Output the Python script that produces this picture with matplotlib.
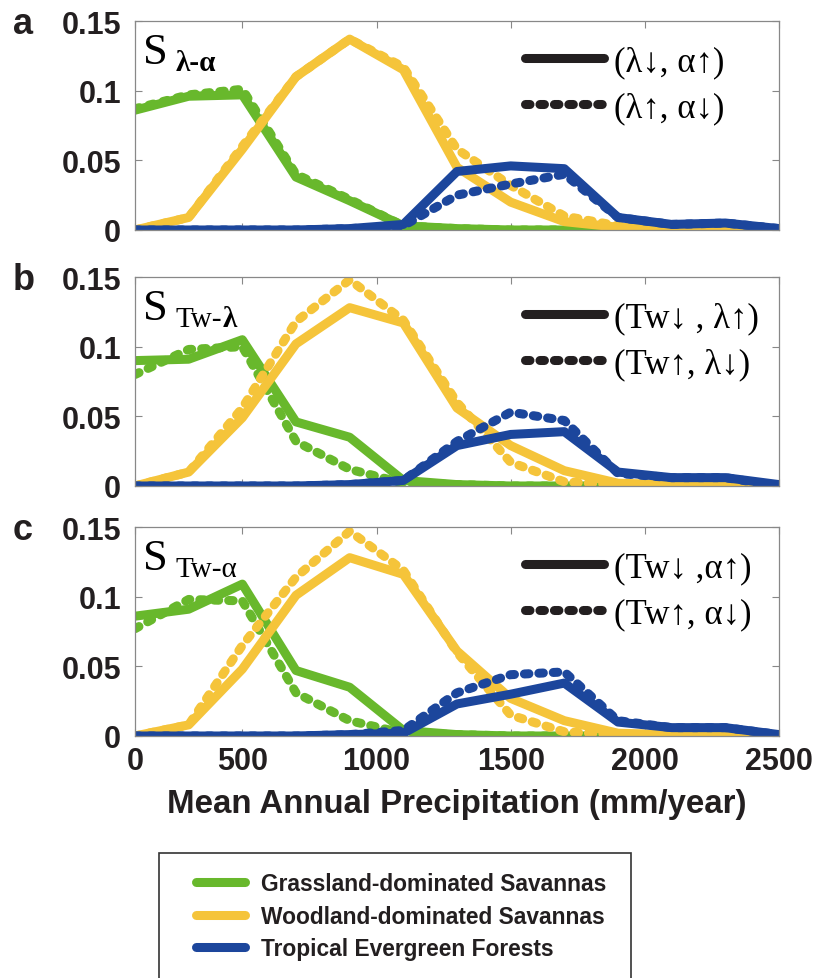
import matplotlib
matplotlib.use('Agg')
import matplotlib.pyplot as plt
from matplotlib.lines import Line2D
from matplotlib.patches import Rectangle

# precipitation bins (mm/year)
precip = [100, 300, 500, 700, 900, 1100, 1300, 1500, 1700, 1900, 2100, 2300, 2500]

# panel a : S lambda-alpha
grass_solid_a  = [0.086, 0.096, 0.097, 0.038, 0.021, 0.003, 0.001, 0, 0, 0, 0, 0, 0]
grass_dash_a   = [0.087, 0.097, 0.101, 0.040, 0.022, 0.003, 0.001, 0, 0, 0, 0, 0, 0]
wood_solid_a   = [0.0, 0.009, 0.058, 0.110, 0.137, 0.115, 0.045, 0.020, 0.006, 0.002, 0.001, 0.001, 0.0]
wood_dash_a    = [0.0, 0.009, 0.060, 0.110, 0.137, 0.117, 0.058, 0.032, 0.010, 0.003, 0.002, 0.001, 0.0]
forest_solid_a = [0, 0, 0, 0, 0.001, 0.004, 0.042, 0.046, 0.044, 0.009, 0.004, 0.005, 0.001]
forest_dash_a  = [0, 0, 0, 0, 0.001, 0.003, 0.025, 0.033, 0.040, 0.009, 0.004, 0.005, 0.001]

# panel b : S Tw-lambda
grass_solid_b  = [0.090, 0.091, 0.105, 0.046, 0.035, 0.004, 0.001, 0, 0, 0, 0, 0, 0]
grass_dash_b   = [0.080, 0.098, 0.100, 0.032, 0.012, 0.002, 0.001, 0, 0, 0, 0, 0, 0]
wood_solid_b   = [0.0, 0.010, 0.049, 0.102, 0.128, 0.117, 0.056, 0.029, 0.011, 0.002, 0.001, 0.001, 0.0]
wood_dash_b    = [0.0, 0.010, 0.056, 0.118, 0.148, 0.119, 0.060, 0.017, 0.003, 0.001, 0.001, 0.001, 0.0]
forest_solid_b = [0, 0, 0, 0, 0.001, 0.004, 0.029, 0.037, 0.039, 0.010, 0.006, 0.006, 0.001]
forest_dash_b  = [0, 0, 0, 0, 0.001, 0.004, 0.032, 0.053, 0.047, 0.009, 0.006, 0.006, 0.0]

# panel c : S Tw-alpha
grass_solid_c  = [0.086, 0.091, 0.109, 0.047, 0.035, 0.004, 0.001, 0, 0, 0, 0, 0, 0]
grass_dash_c   = [0.077, 0.098, 0.097, 0.031, 0.011, 0.002, 0.001, 0, 0, 0, 0, 0, 0]
wood_solid_c   = [0.0, 0.008, 0.048, 0.101, 0.128, 0.116, 0.061, 0.027, 0.011, 0.002, 0.001, 0.001, 0.0]
wood_dash_c    = [0.0, 0.008, 0.065, 0.114, 0.147, 0.119, 0.060, 0.015, 0.003, 0.001, 0.001, 0.001, 0.0]
forest_solid_c = [0, 0, 0, 0, 0.001, 0.002, 0.023, 0.030, 0.038, 0.010, 0.006, 0.006, 0.001]
forest_dash_c  = [0, 0, 0, 0, 0.001, 0.004, 0.031, 0.044, 0.046, 0.011, 0.006, 0.006, 0.001]

panel_letters = ['a', 'b', 'c']
# subscript pieces (text, weight)
subscripts = [[('λ-α', 'bold')],
              [('Tw-', 'normal'), ('λ', 'bold')],
              [('Tw-α', 'normal')]]
solid_labels = ['(λ↓, α↑)', '(Tw↓ , λ↑)', '(Tw↓ ,α↑)']
dash_labels  = ['(λ↑, α↓)', '(Tw↑, λ↓)', '(Tw↑, α↓)']
series_names = ['Grassland-dominated Savannas',
                'Woodland-dominated Savannas',
                'Tropical Evergreen Forests']

xticks = [100, 500, 1000, 1500, 2000, 2500]
xtick_labels = ['0', '500', '1000', '1500', '2000', '2500']
yticks = [0, 0.05, 0.1, 0.15]
ytick_labels = ['0', '0.05', '0.1', '0.15']

colors = ['#68b82c', '#f5c43a', '#1c469c']
ink = '#231f20'
serif = ['Liberation Serif', 'DejaVu Serif']
sans = ['Liberation Sans', 'DejaVu Sans']

data = [
    [(grass_solid_a, grass_dash_a), (wood_solid_a, wood_dash_a), (forest_solid_a, forest_dash_a)],
    [(grass_solid_b, grass_dash_b), (wood_solid_b, wood_dash_b), (forest_solid_b, forest_dash_b)],
    [(grass_solid_c, grass_dash_c), (wood_solid_c, wood_dash_c), (forest_solid_c, forest_dash_c)],
]

lw = 6.5
dashstyle = (0, (0.5, 1.1))  # round caps turn these into beads

fig = plt.figure(figsize=(8.16, 9.79), dpi=100)
fig.patch.set_facecolor('white')

W, H = 816., 979.
left, right = 135, 779
tops = [22, 278, 528]
height = 209

axes = []
for i in range(3):
    ax = fig.add_axes([left / W, 1 - (tops[i] + height) / H, (right - left) / W, height / H])
    axes.append(ax)

    for (solid, dashed), c in zip(data[i], colors):
        ax.plot(precip, solid, color=c, lw=lw, solid_capstyle='round', solid_joinstyle='round')
        ax.plot(precip, dashed, color=c, lw=lw, linestyle=dashstyle,
                dash_capstyle='round', dash_joinstyle='round')

    ax.set_xlim(100, 2500)
    ax.set_ylim(0, 0.15)
    ax.set_xticks(xticks)
    ax.set_yticks(yticks)
    ax.set_yticklabels(ytick_labels, fontsize=22, fontweight='bold', family=sans, color=ink)
    if i == 2:
        ax.set_xticklabels(xtick_labels, fontsize=22, fontweight='bold', family=sans, color=ink)
        ax.set_xlabel('Mean Annual Precipitation (mm/year)', fontsize=23.8, fontweight='bold',
                      family=sans, color=ink, labelpad=9)
    else:
        ax.set_xticklabels([])
    ax.tick_params(direction='in', top=True, right=True, length=5, width=0.8,
                   color='#888888', pad=10)
    ax.tick_params(axis='x', pad=7)
    for s in ax.spines.values():
        s.set_color('#888888')
        s.set_linewidth(0.9)

    # panel letter
    ax.text(-0.19, 0.943, panel_letters[i], transform=ax.transAxes, fontsize=26,
            fontweight='bold', family=sans, color=ink, va='baseline')

    # S label with subscript
    s_txt = ax.text(0.012, 0.80, 'S', transform=ax.transAxes, fontsize=32,
                    family=serif, color='black', va='baseline')
    prev = ax.annotate(subscripts[i][0][0], xy=(1, 0), xycoords=s_txt, xytext=(6, -3),
                       textcoords='offset points', fontsize=21,
                       fontweight=subscripts[i][0][1], family=serif, color='black',
                       va='bottom')
    for txt, wt in subscripts[i][1:]:
        prev = ax.annotate(txt, xy=(1, 0), xycoords=prev, xytext=(0, 0),
                           textcoords='offset points', fontsize=21, fontweight=wt,
                           family=serif, color='black', va='bottom')

    handles = [Line2D([], [], color=ink, lw=lw, solid_capstyle='round'),
               Line2D([], [], color=ink, lw=lw, linestyle=dashstyle, dash_capstyle='round')]
    ax.legend(handles, [solid_labels[i], dash_labels[i]], loc='upper left',
              bbox_to_anchor=(0.605, 0.885), frameon=False, borderpad=0, borderaxespad=0,
              handlelength=2.28, handletextpad=0.3, labelspacing=0.37,
              prop={'family': serif, 'size': 25})

# bottom legend box (runs off the bottom edge like the original)
fig.patches.append(Rectangle((159 / W, -0.05), (631 - 159) / W, (1 - 854 / H) + 0.05,
                             transform=fig.transFigure, fill=False, edgecolor='#333333',
                             lw=1.2))
leg_handles = [Line2D([], [], color=c, lw=lw, solid_capstyle='round') for c in colors]
fig.legend(leg_handles, series_names, loc='upper left',
           bbox_to_anchor=(185 / W, 1 - 862 / H), frameon=False, borderpad=0,
           handlelength=2.15, handletextpad=0.7, labelspacing=0.4,
           prop={'family': sans, 'size': 16.4, 'weight': 'bold'})
for t in fig.legends[0].get_texts():
    t.set_color(ink)

fig.savefig('out.png', dpi=100)
